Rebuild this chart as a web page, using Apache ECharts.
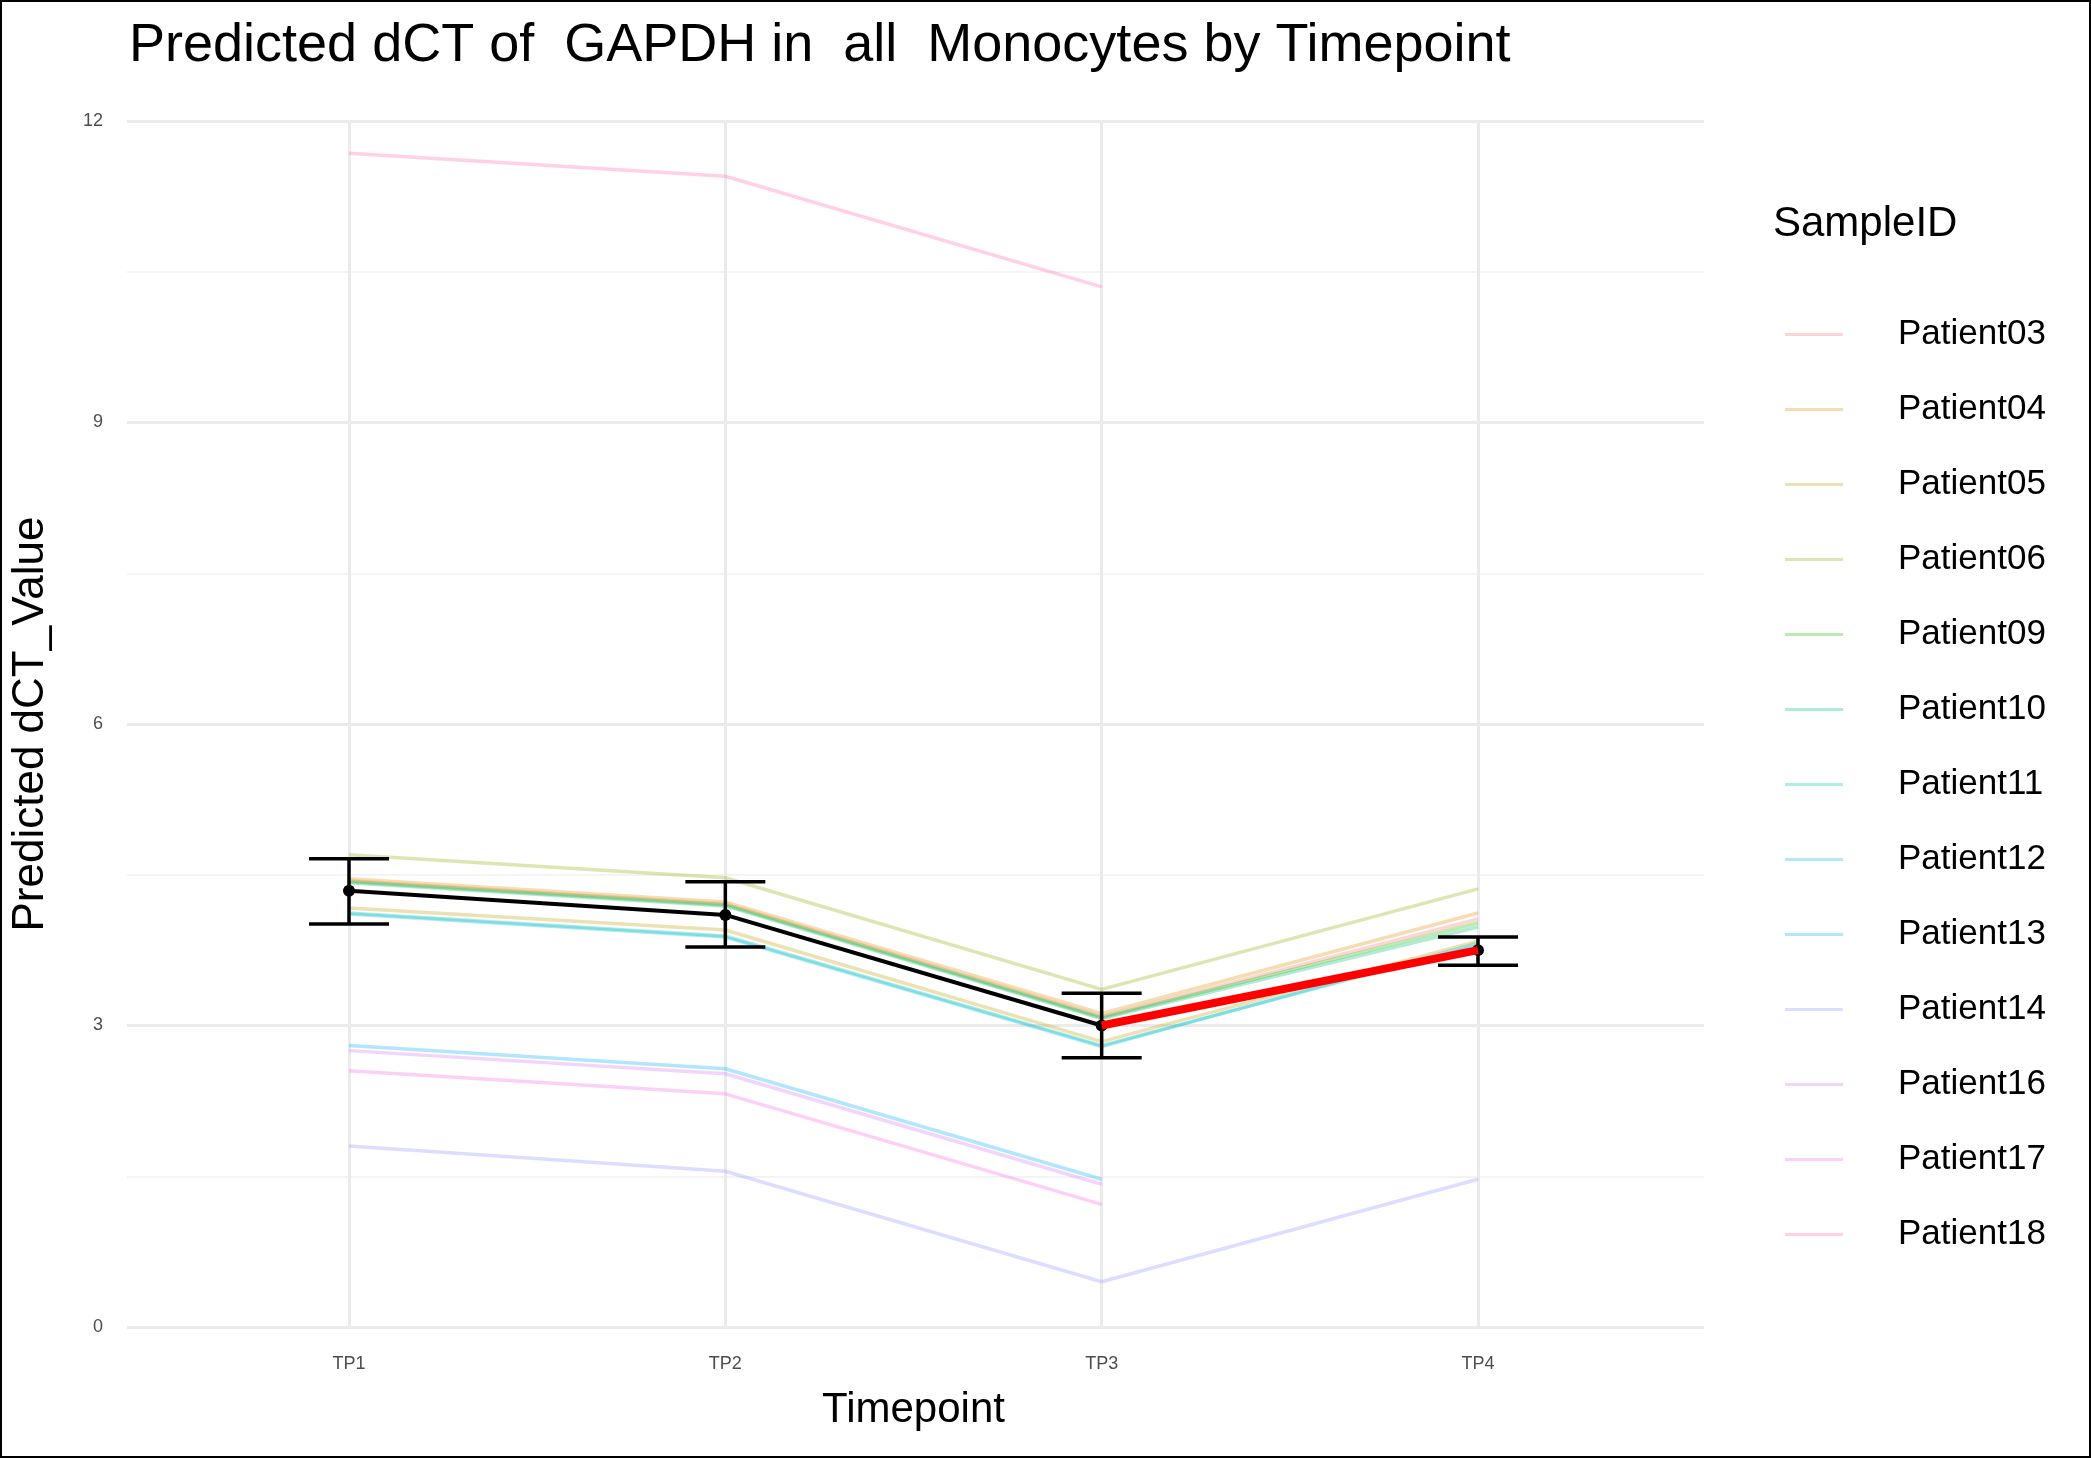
<!DOCTYPE html>
<html><head><meta charset="utf-8">
<script src="https://cdn.jsdelivr.net/npm/echarts@6/dist/echarts.min.js"></script>
<style>html,body{margin:0;padding:0;background:#fff}#c{width:2091px;height:1458px}</style>
</head><body><div id="c"></div>
<script>
const timepoints = ['TP1','TP2','TP3','TP4'];
const patients = ['Patient03','Patient04','Patient05','Patient06','Patient09','Patient10','Patient11','Patient12','Patient13','Patient14','Patient16','Patient17','Patient18'];
const colors = ['#F8766D','#E18A00','#BE9C00','#8CAB00','#24B700','#00BE70','#00C1AB','#00BBDA','#00ACFC','#8B93FF','#D575FE','#F962DD','#FF65AC'];
const values = [
  [4.44, 4.21, 3.09, 4.06],
  [4.46, 4.23, 3.12, 4.12],
  [4.17, 3.95, 2.84, 3.84],
  [4.70, 4.47, 3.36, 4.36],
  [4.43, 4.20, 3.08, 4.02],
  [4.42, 4.19, 3.07, 3.98],
  [4.12, 3.89, 2.80, 3.80],
  [4.11, 3.88, 2.79, 3.82],
  [2.80, 2.57, 1.47, null],
  [1.80, 1.55, 0.45, 1.47],
  [2.75, 2.52, 1.42, null],
  [2.55, 2.32, 1.22, null],
  [11.68, 11.45, 10.35, null]
];
const meanVals = [4.34, 4.10, 3.00, 3.75];
const lowerVals = [4.01, 3.78, 2.68, 3.60];
const upperVals = [4.66, 4.43, 3.32, 3.88];
const redLine = [null, null, 3.00, 3.75];

const chart = echarts.init(document.getElementById('c'));
const font = 'Liberation Sans, Arial, sans-serif';
const series = patients.map((p,i)=>({
  name:p, type:'line', xAxisIndex:0, yAxisIndex:0, data:values[i], symbol:'none',
  lineStyle:{width:3.5, color:colors[i], opacity:0.3}, itemStyle:{color:colors[i], opacity:0.3},
  connectNulls:false, silent:true, z:2
}));
series.push({
  type:'custom', xAxisIndex:0, yAxisIndex:0, z:5,
  data: timepoints.map((t,i)=>[i, lowerVals[i], upperVals[i]]),
  renderItem:(params, api)=>{
    const lo = api.coord([api.value(0), api.value(1)]);
    const hi = api.coord([api.value(0), api.value(2)]);
    const hw = 40;
    const st = {stroke:'#000', lineWidth:3.5};
    return {type:'group', children:[
      {type:'line', shape:{x1:lo[0],y1:lo[1],x2:hi[0],y2:hi[1]}, style:st},
      {type:'line', shape:{x1:lo[0]-hw,y1:lo[1],x2:lo[0]+hw,y2:lo[1]}, style:st},
      {type:'line', shape:{x1:hi[0]-hw,y1:hi[1],x2:hi[0]+hw,y2:hi[1]}, style:st}
    ]};
  }
});
series.push({type:'line', xAxisIndex:0, yAxisIndex:0, data:meanVals, symbol:'circle', symbolSize:12,
  lineStyle:{width:4,color:'#000'}, itemStyle:{color:'#000'}, z:6});
series.push({type:'line', xAxisIndex:0, yAxisIndex:0, data:redLine, symbol:'none',
  lineStyle:{width:8,color:'#ff0000'}, z:7});

chart.setOption({
  animation:false,
  title:{text:'Predicted dCT of  GAPDH in  all  Monocytes by Timepoint', left:124, top:14,
    textStyle:{fontFamily:font, fontSize:54, fontWeight:'normal', color:'#000'}},
  legend:{data:patients, orient:'vertical', left:1780, top:312, icon:'rect', itemWidth:58, itemHeight:3,
    itemGap:40, textStyle:{fontFamily:font, fontSize:35, color:'#000', lineHeight:32, padding:[0,0,0,50]}},
  graphic:[
    {type:'text', left:1773, top:203, style:{text:'SampleID', font:'42px '+font, fill:'#000'}},
    {type:'rect', shape:{x:1,y:1,width:2089,height:1456}, style:{fill:'none', stroke:'#000', lineWidth:2}, silent:true}
  ],
  grid:[
    {left:349, right:613, top:121, bottom:131},
    {left:127, right:387, top:121, bottom:131}
  ],
  xAxis:[
    {type:'category', gridIndex:0, data:timepoints, boundaryGap:false, name:'Timepoint', nameLocation:'middle', nameGap:62,
      nameTextStyle:{fontFamily:font, fontSize:42, color:'#000'},
      axisLine:{show:false}, axisTick:{show:false},
      axisLabel:{fontFamily:font, fontSize:18, color:'#4d4d4d', margin:28},
      splitLine:{show:true, lineStyle:{color:'#ebebeb', width:3}}},
    {type:'value', gridIndex:1, show:false, min:0, max:1}
  ],
  yAxis:[
    {type:'value', gridIndex:0, min:0, max:12, interval:3, show:false, splitLine:{show:false}},
    {type:'value', gridIndex:1, min:0, max:12, interval:3, name:'Predicted dCT_Value', nameLocation:'middle', nameGap:74,
      nameTextStyle:{fontFamily:font, fontSize:44, color:'#000'},
      axisLine:{show:false}, axisTick:{show:false},
      axisLabel:{fontFamily:font, fontSize:18, color:'#4d4d4d', margin:24},
      splitLine:{show:true, lineStyle:{color:'#ebebeb', width:3}},
      minorTick:{show:false, splitNumber:2},
      minorSplitLine:{show:true, lineStyle:{color:'#f4f4f4', width:2}}}
  ],
  series: series
});
</script></body></html>
